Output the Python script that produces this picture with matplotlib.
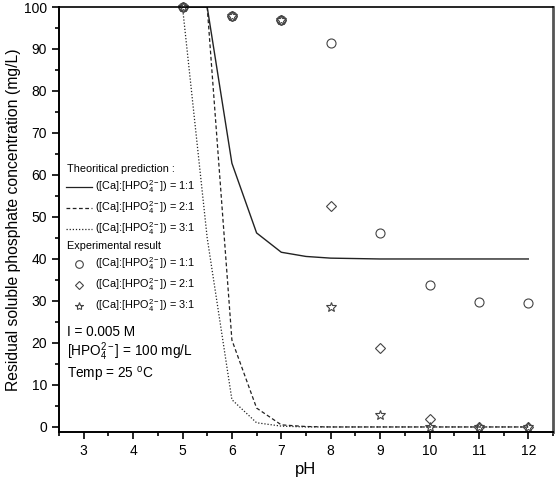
import matplotlib
matplotlib.use("Agg")
import matplotlib.pyplot as plt
from matplotlib.lines import Line2D
from matplotlib.ticker import MultipleLocator

plt.rcParams['font.family'] = ['Liberation Sans', 'DejaVu Sans']
plt.rcParams['mathtext.fontset'] = 'custom'
plt.rcParams['mathtext.rm'] = 'Liberation Sans'
plt.rcParams['mathtext.it'] = 'Liberation Sans:italic'
plt.rcParams['mathtext.bf'] = 'Liberation Sans:bold'

# Theoretical prediction curves
ph_theo = [5.0, 5.5, 6.0, 6.5, 7.0, 7.5, 8.0, 9.0, 10.0, 11.0, 12.0]
theo_11 = [100.0, 100.0, 62.8, 46.2, 41.6, 40.6, 40.2, 40.0, 40.0, 40.0, 40.0]
ph_theo_2 = [5.5, 6.0, 6.5, 7.0, 7.5, 8.0, 9.0, 10.0, 11.0, 12.0]
theo_21 = [100.0, 20.7, 4.5, 0.5, 0.1, 0.0, 0.0, 0.0, 0.0, 0.0]
ph_theo_3 = [5.0, 5.5, 6.0, 6.5, 7.0, 7.5, 8.0, 9.0, 10.0, 11.0, 12.0]
theo_31 = [100.0, 45.0, 6.5, 1.0, 0.2, 0.0, 0.0, 0.0, 0.0, 0.0, 0.0]

# Experimental results
ph_exp = [5, 6, 7, 8, 9, 10, 11, 12]
exp_11 = [100.0, 97.9, 96.9, 91.4, 46.2, 33.8, 29.8, 29.5]
exp_21 = [100.0, 97.9, 96.9, 52.6, 18.8, 1.9, 0.0, 0.0]
exp_31 = [100.0, 97.9, 96.9, 28.6, 2.9, 0.0, 0.0, 0.0]

ratio_labels = [r'([Ca]:[HPO$_4^{2-}$]) = 1:1',
                r'([Ca]:[HPO$_4^{2-}$]) = 2:1',
                r'([Ca]:[HPO$_4^{2-}$]) = 3:1']

W, H = 558, 487
fig = plt.figure(figsize=(W / 100, H / 100), dpi=100)
ax = fig.add_axes([59 / W, 1 - 432 / H, (553 - 59) / W, (432 - 7) / H])

line_col = '#222222'
mk_col = '#444444'
ax.plot(ph_theo, theo_11, '-', color=line_col, lw=1.0)
ax.plot(ph_theo_2, theo_21, '--', color=line_col, lw=0.9, dashes=(3, 2))
ax.plot(ph_theo_3, theo_31, ':', color=line_col, lw=0.9, dashes=(1, 1.5))

mk_kw = dict(linestyle='none', mfc='none', mec=mk_col, mew=0.8, clip_on=False)
ax.plot(ph_exp, exp_11, marker='o', ms=6.5, **mk_kw)
ax.plot(ph_exp, exp_21, marker='D', ms=5.5, **mk_kw)
ax.plot(ph_exp, exp_31, marker='*', ms=7, **mk_kw)

ax.set_ylim(-1.2, 100)
ax.xaxis.set_minor_locator(MultipleLocator(0.5))
ax.yaxis.set_major_locator(MultipleLocator(10))
ax.yaxis.set_minor_locator(MultipleLocator(5))
ax.set_xticks(range(3, 13))
ax.set_xlim(2.5, 12.5)
ax.tick_params(which='both', direction='out', top=False, right=False,
               labelsize=10, width=1.2)
ax.tick_params(which='major', length=5)
ax.tick_params(which='minor', length=3)

ax.spines['left'].set_linewidth(1.4)
ax.spines['bottom'].set_linewidth(1.4)
ax.spines['top'].set_linewidth(1.2)
ax.spines['right'].set_linewidth(2.0)
ax.spines['right'].set_color('#555555')

ax.set_xlabel('pH', fontsize=12)
ax.set_ylabel('Residual soluble phosphate concentration (mg/L)', fontsize=11.3)
ax.xaxis.set_label_coords(0.5, -0.07)
ax.yaxis.set_label_coords(-0.077, 0.5)


# manual legend, placed in figure pixels
def fx(px):
    return px / W


def fy(py):
    return 1 - py / H


fs = 7.8
fig.text(fx(67), fy(169), 'Theoritical prediction :', fontsize=fs, va='center')
styles = [dict(ls='-'), dict(ls='--', dashes=(3, 2)), dict(ls=':', dashes=(1, 1.5))]
for i, (st, lab) in enumerate(zip(styles, ratio_labels)):
    y = 187 + 21 * i
    fig.add_artist(Line2D([fx(66), fx(92)], [fy(y), fy(y)], color=line_col, lw=0.9, **st))
    fig.text(fx(95), fy(y), lab, fontsize=fs, va='center')
fig.text(fx(67), fy(246), 'Experimental result', fontsize=fs, va='center')
mk_list = [('o', 5.5), ('D', 4.5), ('*', 6)]
for i, ((m, s), lab) in enumerate(zip(mk_list, ratio_labels)):
    y = 264 + 21 * i
    fig.add_artist(Line2D([fx(79)], [fy(y)], marker=m, ms=s, mfc='none',
                          mec=mk_col, mew=0.8, linestyle='none'))
    fig.text(fx(95), fy(y), lab, fontsize=fs, va='center')

fs2 = 9.8
fig.text(fx(67), fy(332), 'I = 0.005 M', fontsize=fs2, va='center')
fig.text(fx(67), fy(352), r'[HPO$_4^{2-}$] = 100 mg/L', fontsize=fs2, va='center')
fig.text(fx(67), fy(375), r'Temp = 25 $^{\rm o}$C', fontsize=fs2, va='center')

fig.savefig('out.png', dpi=100)
